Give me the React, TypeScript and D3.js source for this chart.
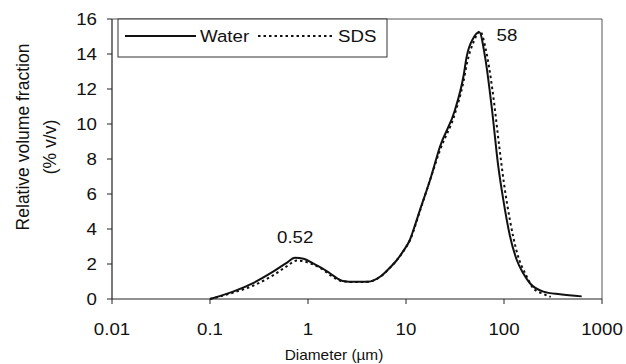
import React from "react";
import * as d3 from "d3";

const xTicks = [0.01, 0.1, 1, 10, 100, 1000];
const xTickLabels = ["0.01", "0.1", "1", "10", "100", "1000"];
const yTicks = [0, 2, 4, 6, 8, 10, 12, 14, 16];

const waterD = [0.1, 0.172, 0.275, 0.44, 0.6, 0.736, 0.9, 1.125, 1.4, 1.675, 2.27, 3.0, 4.09, 5.43, 6.87, 8.0, 9.4, 11, 11.9, 13.9, 17.6, 22.2, 31.6, 38.5, 41.6, 48.6, 56, 64, 74.8, 87.5, 98.4, 115, 135, 157, 184, 252, 373, 621];
const waterV = [0, 0.42, 0.91, 1.56, 2.05, 2.36, 2.3, 2.04, 1.75, 1.47, 1.03, 0.98, 0.99, 1.27, 1.8, 2.2, 2.75, 3.4, 3.94, 5.09, 6.8, 8.7, 10.8, 12.7, 13.85, 14.9, 15.24, 13.85, 11.0, 7.56, 5.66, 3.6, 2.23, 1.47, 0.9, 0.42, 0.27, 0.15];

const sdsD = [0.1, 0.17, 0.28, 0.44, 0.6, 0.77, 1.1, 1.4, 1.7, 2.3, 3.0, 4.0, 5.4, 6.9, 8.0, 9.4, 11, 14, 17.6, 22.2, 31.6, 38.5, 42, 49, 57, 65, 76, 90, 100, 115, 135, 170, 200, 250, 300];
const sdsV = [0, 0.35, 0.78, 1.35, 1.85, 2.2, 2.0, 1.7, 1.35, 1.0, 0.97, 0.98, 1.25, 1.8, 2.2, 2.72, 3.37, 5.1, 6.8, 8.5, 10.6, 12.4, 13.5, 14.7, 15.3, 14.3, 12.0, 8.6, 6.6, 4.5, 2.7, 1.3, 0.6, 0.3, 0.12];

const seriesNames = ["Water", "SDS"];
const peakLabels = [{ x: 0.52, y: 2.36, text: "0.52" }, { x: 58, y: 15.3, text: "58" }];

const W = 626, H = 364;
const L = 112, R = 602, T = 19, B = 299;
const FONT = "'Liberation Sans', Arial, sans-serif";

export default function App() {
  const x = d3.scaleLog().domain([0.01, 1000]).range([L, R]);
  const y = d3.scaleLinear().domain([0, 16]).range([B, T]);
  const line = d3.line<[number, number]>().x(d => x(d[0])).y(d => y(d[1])).curve(d3.curveMonotoneX);
  const waterPts = waterD.map((d, i) => [d, waterV[i]] as [number, number]);
  const sdsPts = sdsD.map((d, i) => [d, sdsV[i]] as [number, number]);
  const sx = 1.1;
  const txt = (tx: number, ty: number, s: string, anchor: string, size: number, key?: any) => (
    <text key={key} transform={`translate(${tx},${ty}) scale(${sx},1)`} textAnchor={anchor} fontSize={size} fontFamily={FONT} fill="#111">{s}</text>
  );
  return (
    <svg width={W} height={H} style={{ position: "absolute", left: 0, top: 0, background: "#fff" }}>
      <rect x={0} y={0} width={W} height={H} fill="#fff" />
      <line x1={L} x2={R} y1={T} y2={T} stroke="#555" strokeWidth={1} />
      <line x1={R} x2={R} y1={T} y2={B} stroke="#555" strokeWidth={1} />
      <line x1={L} x2={L} y1={T} y2={B} stroke="#222" strokeWidth={1.2} />
      <line x1={L} x2={R} y1={B} y2={B} stroke="#222" strokeWidth={1.2} />
      {yTicks.map(t => (
        <g key={"y" + t}>
          <line x1={L - 5} x2={L} y1={y(t)} y2={y(t)} stroke="#222" />
          {txt(L - 15, y(t) + 6, String(t), "end", 17)}
        </g>
      ))}
      {xTicks.map((t, i) => (
        <g key={"x" + t}>
          <line x1={x(t)} x2={x(t)} y1={B} y2={B + 5} stroke="#222" />
          {txt(x(t), 335, xTickLabels[i], "middle", 17)}
        </g>
      ))}
      {txt(334, 360, "Diameter (\u00b5m)", "middle", 14)}
      <text transform={`translate(29,137) rotate(-90)`} textAnchor="middle" fontSize={17.5} fontFamily={FONT} fill="#111">Relative volume fraction</text>
      <text transform={`translate(56,147) rotate(-90)`} textAnchor="middle" fontSize={17.5} fontFamily={FONT} fill="#111">(% v/v)</text>
      <path d={line(sdsPts) || ""} fill="none" stroke="#111" strokeWidth={2} strokeDasharray="2.5,3" />
      <path d={line(waterPts) || ""} fill="none" stroke="#111" strokeWidth={2} />
      {txt(x(peakLabels[0].x) + 15, 243, peakLabels[0].text, "middle", 17)}
      {txt(507, 41, peakLabels[1].text, "middle", 17)}
      <rect x={118} y={T} width={269} height={38} fill="#fff" stroke="#333" strokeWidth={1} />
      <line x1={125} x2={196} y1={36} y2={36} stroke="#111" strokeWidth={2} />
      {txt(200, 42, seriesNames[0], "start", 17)}
      <line x1={258} x2={335} y1={36} y2={36} stroke="#111" strokeWidth={2} strokeDasharray="2.5,3" />
      {txt(338, 42, seriesNames[1], "start", 17)}
    </svg>
  );
}
